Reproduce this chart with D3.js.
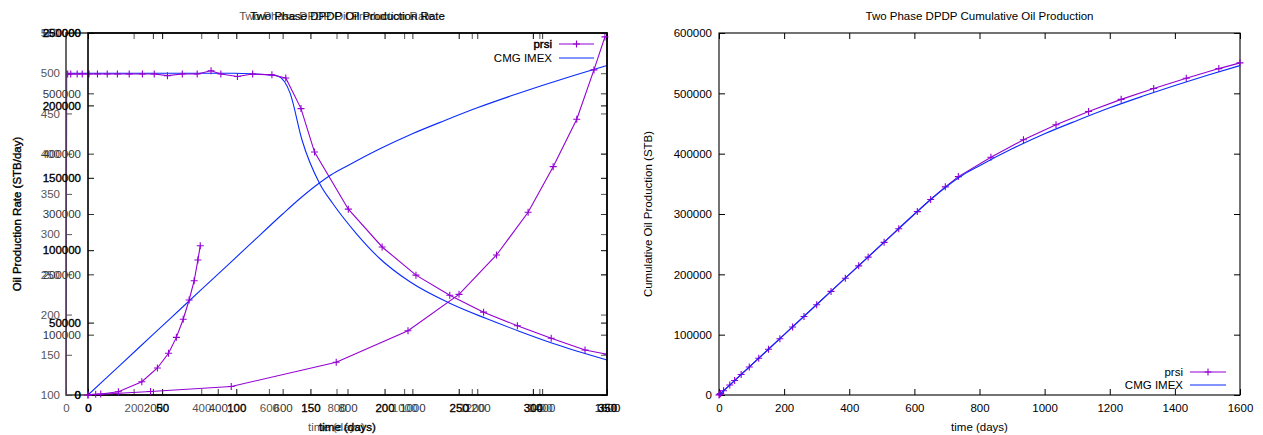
<!DOCTYPE html>
<html>
<head>
<meta charset="utf-8">
<script src="https://cdn.jsdelivr.net/npm/d3@7"></script>
<style>
  html, body { margin: 0; padding: 0; background: #fff; }
  svg { display: block; font-family: "Liberation Sans", Arial, sans-serif; }
</style>
</head>
<body>
<svg id="chart" width="1263" height="435"></svg>
<script>
// ---- data ----------------------------------------------------------------
// prsi simulator time steps (days)
const prsiDays = [0, 2, 5, 14, 33, 48, 68, 93, 122, 152, 187, 226, 261, 300, 344, 388, 429, 458,
  507, 552, 609, 650, 695, 735, 835, 935, 1035, 1135, 1235, 1335, 1435, 1535, 1600];
// prsi oil production rate (STB/day)
const prsiRate = [0, 499, 499, 499, 499, 499, 499, 499, 499, 499, 499, 499, 499, 497, 499, 499, 503, 499,
  496, 499, 498, 494, 456, 402, 331, 284, 249, 224, 203, 186, 170.5, 156, 150.6];
// prsi cumulative oil production (STB)
const prsiCum = [0, 1000, 2500, 7000, 16500, 24000, 34000, 46400, 60900, 75800, 93300, 112800, 130200,
  149700, 171700, 193600, 214100, 228600, 253000, 275500, 304000, 324000, 345000, 362000, 394000,
  423000, 448000, 470000, 490000, 508000, 525000, 541000, 550500];

// CMG IMEX oil production rate
const cmgRateDays = [0, 100, 200, 300, 400, 500, 560, 601, 626, 663, 698, 750, 789, 858, 927, 1016,
  1135, 1243, 1342, 1441, 1600];
const cmgRate = [500, 500, 500, 500, 500, 500, 499, 498, 496.5, 475, 417, 363, 338, 301, 270, 241,
  214, 195, 179, 164, 143.5];

// CMG IMEX cumulative oil production
const cmgCumDays = [0, 100, 200, 300, 400, 500, 600, 650, 700, 750, 800, 900, 1000, 1100, 1200, 1300,
  1400, 1500, 1600];
const cmgCum = [0, 50000, 100000, 150000, 200000, 250000, 300000, 324000, 346000, 365000, 380000,
  408000, 433000, 455000, 476000, 495000, 513000, 530000, 546000];

// prsi runs plotted on the short (0-350) time axis
const prsiRunADays = [0, 5.2, 8.6, 20.5, 36.3, 46.8, 54.3, 59.6, 64.2, 68.2, 71.6, 74.1, 75.7];
const prsiRunAVals = [0, 470, 690, 2280, 9190, 18650, 28800, 39800, 52300, 65600, 78900, 93200, 103100];
const prsiRunBDays = [0, 42.2, 96.6, 167.4, 215.8, 250.2, 275.5, 296.8, 313.7, 329.6, 341.2, 348.6];
const prsiRunBVals = [0, 2400, 5870, 22600, 44400, 69500, 96700, 126200, 157700, 190400, 224500, 247300];

// tick values
const dayTicks = [0, 200, 400, 600, 800, 1000, 1200, 1400, 1600];
const rateTicks = [100, 150, 200, 250, 300, 350, 400, 450, 500, 550];
const cumTicks = [0, 100000, 200000, 300000, 400000, 500000, 600000];
const shortDayTicks = [0, 50, 100, 150, 200, 250, 300, 350];
const shortCumTicks = [0, 50000, 100000, 150000, 200000, 250000];

const PURPLE = "#9400d3";
const BLUE = "#0a2bff";

// ---- layout ----------------------------------------------------------------
const svg = d3.select("#chart");
svg.append("rect").attr("width", 1263).attr("height", 435).attr("fill", "#fff");

const TOP = 33, BOTTOM = 395;
const L = { gLeft: 66, left: 88, right: 607 };
const R = { left: 719, right: 1240 };

// the rate plot clips its curves to its own frame
svg.append("defs").append("clipPath").attr("id", "rate-clip")
  .append("rect").attr("x", L.gLeft).attr("y", TOP)
  .attr("width", L.right - L.gLeft).attr("height", BOTTOM - TOP);

const gx = d3.scaleLinear([0, 1600], [L.gLeft, L.right]);
const gy = d3.scaleLinear([100, 550], [BOTTOM, TOP]);
const lx = d3.scaleLinear([0, 1600], [L.left, L.right]);
const ly = d3.scaleLinear([0, 600000], [BOTTOM, TOP]);
const bx = d3.scaleLinear([0, 350], [L.left, L.right]);
const by = d3.scaleLinear([0, 250000], [BOTTOM, TOP]);
const rx = d3.scaleLinear([0, 1600], [R.left, R.right]);
const ry = d3.scaleLinear([0, 600000], [BOTTOM, TOP]);

const FS = 11.5;
const fmt = d3.format("d");

function styleAxis(sel, color, weight) {
  sel.select(".domain").remove();
  sel.selectAll(".tick line").attr("stroke", color).attr("stroke-width", 1);
  sel.selectAll(".tick text")
    .attr("fill", color)
    .attr("font-size", FS)
    .attr("font-family", "Liberation Sans, Arial, sans-serif");
  if (weight) sel.selectAll(".tick text").attr("stroke", color).attr("stroke-width", weight);
}

// one set of axes: left labelled, bottom labelled, top/right mirrored ticks
function axes(layer, xs, ys, xt, yt, leftX, rightX, color, pad, weight) {
  layer.append("g").attr("transform", `translate(${leftX},0)`)
    .call(d3.axisLeft(ys).tickValues(yt).tickSize(-6).tickPadding(pad).tickFormat(fmt))
    .call(s => styleAxis(s, color, weight));
  layer.append("g").attr("transform", `translate(${rightX},0)`)
    .call(d3.axisRight(ys).tickValues(yt).tickSize(-6).tickFormat(""))
    .call(s => styleAxis(s, color));
  layer.append("g").attr("transform", `translate(0,${BOTTOM})`)
    .call(d3.axisBottom(xs).tickValues(xt).tickSize(-6).tickPadding(9).tickFormat(fmt))
    .call(s => styleAxis(s, color, weight));
  layer.append("g").attr("transform", `translate(0,${TOP})`)
    .call(d3.axisTop(xs).tickValues(xt).tickSize(-6).tickFormat(""))
    .call(s => styleAxis(s, color));
}

function frame(layer, x0, x1, color, w) {
  layer.append("rect").attr("x", x0).attr("y", TOP).attr("width", x1 - x0).attr("height", BOTTOM - TOP)
    .attr("fill", "none").attr("stroke", color).attr("stroke-width", w);
}

function series(layer, xs, ys, xv, yv, color, marks, curve) {
  const pts = xv.map((d, i) => [xs(d), ys(yv[i])]);
  layer.append("path")
    .attr("d", d3.line().curve(curve || d3.curveLinear)(pts))
    .attr("fill", "none").attr("stroke", color).attr("stroke-width", 1.1);
  if (marks) {
    const m = layer.append("g").attr("stroke", color).attr("stroke-width", 1.1);
    pts.forEach(([x, y]) => {
      m.append("path").attr("d", `M${x - 3.5},${y}H${x + 3.5}M${x},${y - 3.5}V${y + 3.5}`);
    });
  }
}

function text(layer, x, y, str, opts) {
  const o = Object.assign({ anchor: "middle", color: "#000", size: FS, weight: 0, rotate: 0 }, opts);
  const t = layer.append("text")
    .attr("x", x).attr("y", y)
    .attr("text-anchor", o.anchor)
    .attr("font-size", o.size)
    .attr("fill", o.color)
    .text(str);
  if (o.weight) t.attr("stroke", o.color).attr("stroke-width", o.weight);
  if (o.rotate) t.attr("transform", `rotate(${o.rotate},${x},${y})`);
  return t;
}

function legend(layer, textRight, sampleX0, sampleX1, y0, dy, weightPrsi) {
  text(layer, textRight, y0 + 4, "prsi", { anchor: "end", weight: weightPrsi });
  layer.append("line").attr("x1", sampleX0).attr("x2", sampleX1).attr("y1", y0).attr("y2", y0)
    .attr("stroke", PURPLE).attr("stroke-width", 1.1);
  const cx = (sampleX0 + sampleX1) / 2;
  layer.append("path").attr("d", `M${cx - 3.5},${y0}H${cx + 3.5}M${cx},${y0 - 3.5}V${y0 + 3.5}`)
    .attr("stroke", PURPLE).attr("stroke-width", 1.1);
  text(layer, textRight, y0 + dy + 4, "CMG IMEX", { anchor: "end" });
  layer.append("line").attr("x1", sampleX0).attr("x2", sampleX1).attr("y1", y0 + dy).attr("y2", y0 + dy)
    .attr("stroke", BLUE).attr("stroke-width", 1.1);
}

// ---- left panel: oil rate layer (grey axes) --------------------------------
const grey = svg.append("g");
axes(grey, gx, gy, dayTicks, rateTicks, L.gLeft, L.right, "#555", 6, 0);
const greyPlot = grey.append("g").attr("clip-path", "url(#rate-clip)");
series(greyPlot, gx, gy, cmgRateDays, cmgRate, BLUE, false, d3.curveMonotoneX);
series(greyPlot, gx, gy, prsiDays, prsiRate, PURPLE, true);
frame(grey, L.gLeft, L.right, "#444", 1.6);
text(grey, (L.gLeft + L.right) / 2, 20, "Two Phase DPDP Oil Production Rate", { color: "#555" });
text(grey, (L.gLeft + L.right) / 2, 431, "time (days)", { color: "#555" });

// ---- left panel: cumulative layer ------------------------------------------
const mid = svg.append("g");
axes(mid, lx, ly, dayTicks, cumTicks, L.left, L.right, "#333", 7, 0);
series(mid, lx, ly, cmgCumDays, cmgCum, BLUE, false, d3.curveMonotoneX);

// ---- left panel: short time axis layer (black axes) -------------------------
const dark = svg.append("g");
axes(dark, bx, by, shortDayTicks, shortCumTicks, L.left, L.right, "#000", 7, 0.35);
frame(dark, L.left, L.right, "#000", 1.6);
series(dark, bx, by, prsiRunBDays, prsiRunBVals, PURPLE, true);
series(dark, bx, by, prsiRunADays, prsiRunAVals, PURPLE, true);
text(dark, (L.left + L.right) / 2, 20, "Two Phase DPDP Oil Production Rate", { weight: 0.2 });
text(dark, (L.left + L.right) / 2, 431, "time (days)", { weight: 0.35 });
text(dark, 21, 214, "Oil Production Rate (STB/day)", { rotate: -90, weight: 0.35 });
legend(dark, 552, 559, 594, 44, 14, 0.45);

// ---- right panel: cumulative production --------------------------------------
const right = svg.append("g");
axes(right, rx, ry, dayTicks, cumTicks, R.left, R.right, "#000", 7, 0);
frame(right, R.left, R.right, "#000", 1.1);
series(right, rx, ry, prsiDays, prsiCum, PURPLE, true);
series(right, rx, ry, cmgCumDays, cmgCum, BLUE, false, d3.curveMonotoneX);
text(right, (R.left + R.right) / 2, 20, "Two Phase DPDP Cumulative Oil Production");
text(right, (R.left + R.right) / 2, 431, "time (days)");
text(right, 652, 214, "Cumulative Oil Production (STB)", { rotate: -90 });
legend(right, 1183, 1190, 1226, 372, 13, 0);
</script>
</body>
</html>
